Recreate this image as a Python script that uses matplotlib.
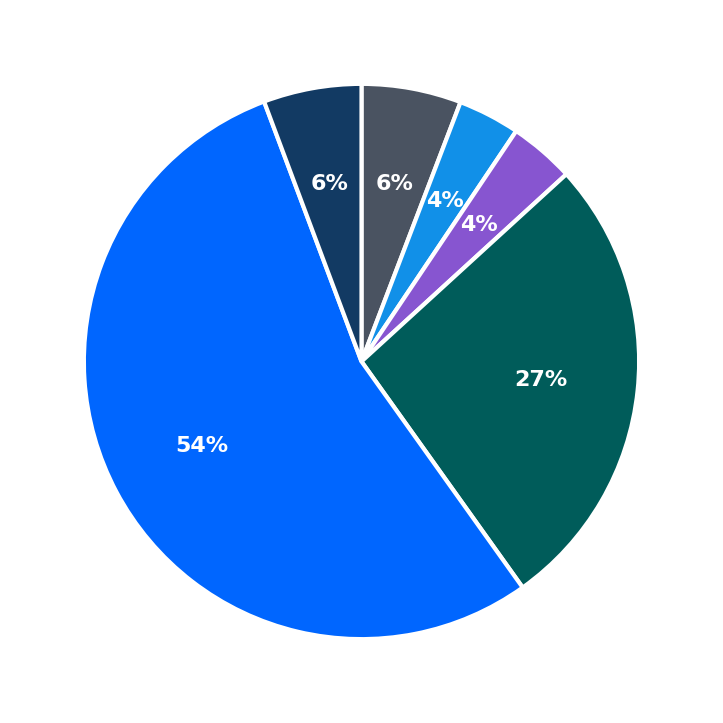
import matplotlib
matplotlib.use("Agg")
import matplotlib.pyplot as plt

labels = ["A", "B", "C", "D", "E", "F"]
values = [5.8, 3.6, 3.8, 26.9, 54.1, 5.7]
colors = ["#4a5361", "#1190e8", "#8755d0", "#005c5a", "#0066ff", "#123a63"]

fig = plt.figure(figsize=(7.23, 7.23), dpi=100)
ax = fig.add_axes([0.02, 0.02, 0.96, 0.96])
wedges, texts, autotexts = ax.pie(values, colors=colors, startangle=90, counterclock=False,
       autopct="%.0f%%", pctdistance=0.65,
       wedgeprops=dict(edgecolor="white", linewidth=3),
       textprops=dict(color="white", fontsize=16, fontweight="bold"))
ax.set_aspect("equal")
fig.savefig("out.png", dpi=100)
